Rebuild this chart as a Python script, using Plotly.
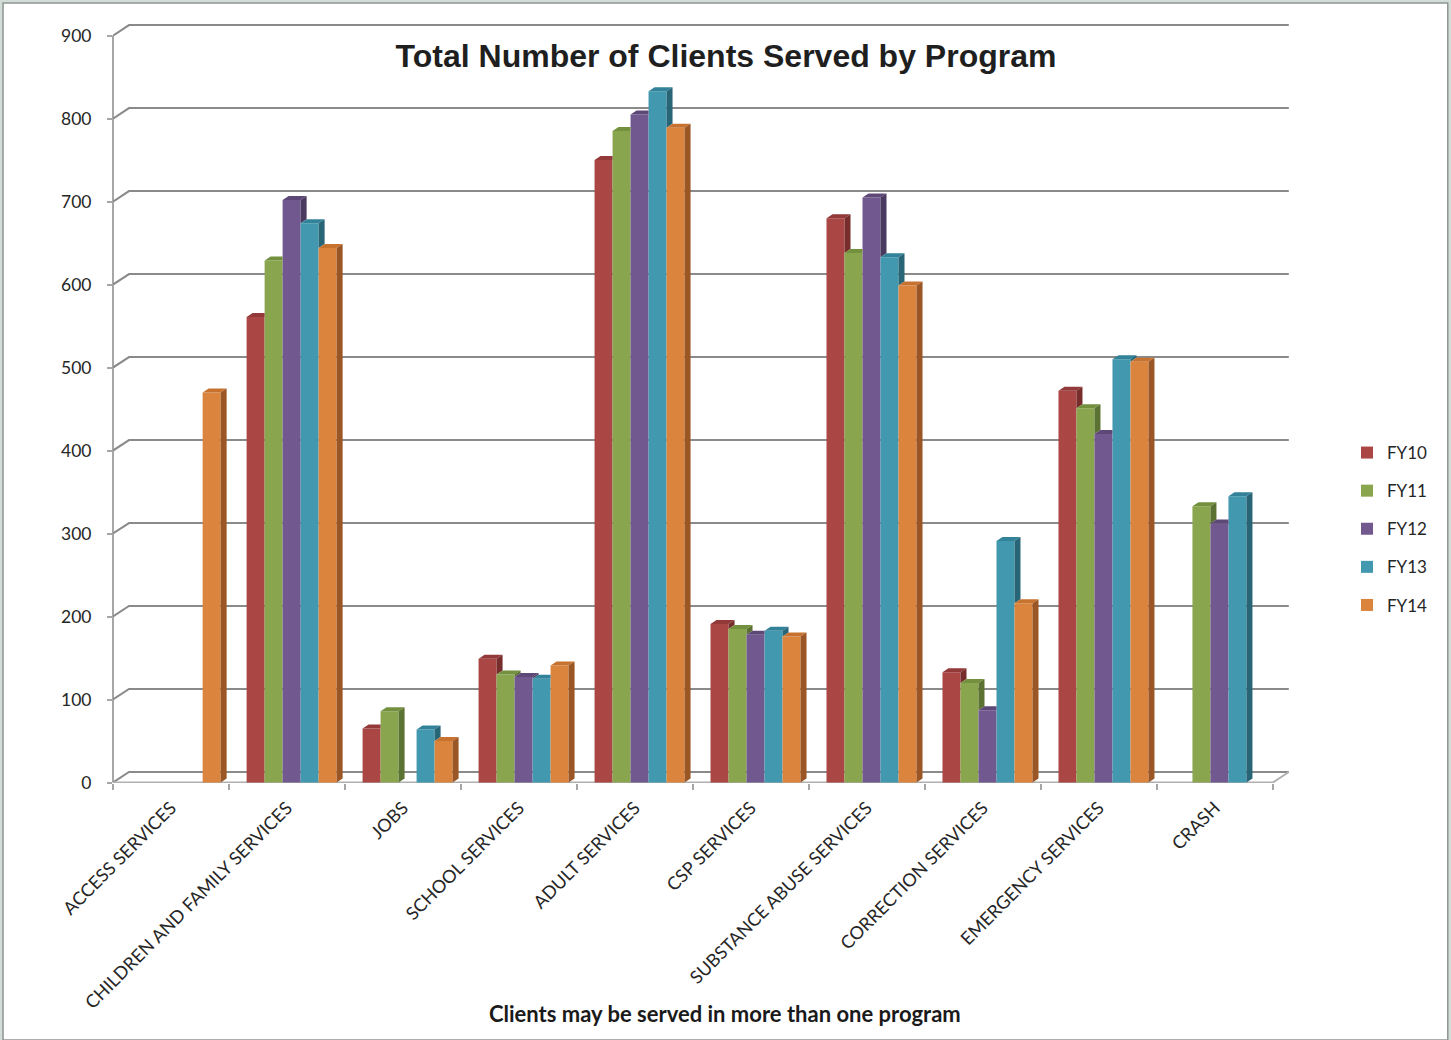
import plotly.graph_objects as go

# Programs and clients served per fiscal year (None = program not offered)
programs = [
    "ACCESS SERVICES", "CHILDREN AND FAMILY SERVICES", "JOBS", "SCHOOL SERVICES",
    "ADULT SERVICES", "CSP SERVICES", "SUBSTANCE ABUSE SERVICES",
    "CORRECTION SERVICES", "EMERGENCY SERVICES", "CRASH",
]
years = ["FY10", "FY11", "FY12", "FY13", "FY14"]
fy10 = [None, 561, 65, 149, 750, 191, 680, 133, 472, None]
fy11 = [None, 629, 86, 130, 785, 185, 638, 120, 451, 333]
fy12 = [None, 702, None, 127, 805, 178, 705, 87, 420, 312]
fy13 = [None, 674, 64, 125, 833, 183, 633, 291, 510, 345]
fy14 = [470, 644, 50, 141, 789, 176, 599, 216, 507, None]
series = [fy10, fy11, fy12, fy13, fy14]
y_ticks = [0, 100, 200, 300, 400, 500, 600, 700, 800, 900]

front_cols = ["#AA4643", "#89A54E", "#71588F", "#4198AF", "#DB843D"]
top_cols = ["#93393A", "#73903F", "#5E4878", "#32839A", "#C87230"]
side_cols = ["#772D2B", "#5B7232", "#4A3A60", "#286577", "#9A5624"]

# pixel geometry of the plot frame
W, H = 1451, 1040
PX_L, PX_UNIT = 113, 116.0          # x=0 position, px per category
Y0_PX, Y_SCALE = 782.5, 0.83        # y=0 position, px per unit
X_MAX = 10.2
Y_MIN, Y_MAX = -0.6, 920
plot_w = X_MAX * PX_UNIT
top_px = Y0_PX - Y_MAX * Y_SCALE
bot_px = Y0_PX - Y_MIN * Y_SCALE
plot_h = bot_px - top_px

# 3-D offsets: back wall and bar depth (data units)
wall_dx, wall_dy = 16 / PX_UNIT, 10.5 / Y_SCALE
bar_dx, bar_dy = 6 / PX_UNIT, 4 / Y_SCALE
group_w = 0.776
bar_w = group_w / 5
group_shift = 0.54

n = len(programs)
xc = [i + group_shift for i in range(n)]

fig = go.Figure()

# front faces
for k, (name, vals) in enumerate(zip(years, series)):
    fig.add_trace(go.Bar(
        x=xc, y=vals, name=name, width=bar_w, offset=-group_w / 2 + k * bar_w,
        marker=dict(color=front_cols[k], line=dict(width=0)),
        legendgroup=name, customdata=programs,
        hovertemplate="%{customdata}<br>" + name + ": %{y}<extra></extra>",
    ))

# top and side faces, hidden parts removed where the next bar covers them
for k, vals in enumerate(series):
    tx, ty, sx, sy = [], [], [], []
    for i, v in enumerate(vals):
        if v is None:
            continue
        x0 = xc[i] - group_w / 2 + k * bar_w
        x1 = x0 + bar_w
        nxt = series[k + 1][i] if k + 1 < len(series) else None
        vn = nxt if nxt is not None else 0
        if nxt is not None and nxt > v:
            tx += [x0, x1, x1, x0 + bar_dx, x0, None]
            ty += [v, v, v + bar_dy, v + bar_dy, v, None]
        else:
            tx += [x0, x1, x1 + bar_dx, x0 + bar_dx, x0, None]
            ty += [v, v, v + bar_dy, v + bar_dy, v, None]
        if v > vn:
            sx += [x1, x1, x1 + bar_dx, x1 + bar_dx, x1, None]
            sy += [vn, v, v + bar_dy, vn + bar_dy, vn, None]
    for xs, ys, col in ((tx, ty, top_cols[k]), (sx, sy, side_cols[k])):
        fig.add_trace(go.Scatter(
            x=xs, y=ys, mode="lines", fill="toself", fillcolor=col,
            line=dict(width=0, color=col), showlegend=False, hoverinfo="skip",
            legendgroup=years[k],
        ))

shapes = []
def px_to_paper(px, py):
    return (px - PX_L) / plot_w, (bot_px - py) / plot_h

# outer frame
fx0, fy0 = px_to_paper(3, 1040)
fx1, fy1 = px_to_paper(1448, 3)
shapes.append(dict(type="rect", xref="paper", yref="paper", x0=fx0, y0=fy0, x1=fx1, y1=fy1,
                   fillcolor="white", line=dict(color="#8e9592", width=1.5), layer="below"))

# back wall gridlines with their slant onto the side wall
for v in y_ticks:
    shapes.append(dict(
        type="path", xref="x", yref="y", layer="below",
        path=f"M 0,{v} L {wall_dx},{v + wall_dy} L {n + wall_dx},{v + wall_dy}",
        line=dict(color="#8a8a8a", width=2),
    ))
# floor front edge and right slant
shapes.append(dict(type="path", xref="x", yref="y", layer="below",
                   path=f"M 0,0 L {n},0 L {n + wall_dx},{wall_dy}",
                   line=dict(color="#b0b0b0", width=2)))
# vertical value axis line
shapes.append(dict(type="line", xref="paper", yref="y", x0=0, x1=0, y0=0, y1=y_ticks[-1],
                   line=dict(color="#a6a6a6", width=2), layer="below"))

ann_x, ann_y = px_to_paper(725, 1014)

fig.update_layout(
    width=W, height=H,
    margin=dict(l=PX_L, r=W - PX_L - plot_w, t=top_px, b=H - bot_px, pad=0),
    paper_bgcolor="#d3ddd7", plot_bgcolor="rgba(0,0,0,0)",
    barmode="overlay",
    shapes=shapes,
    title=dict(text="<b>Total Number of Clients Served by Program</b>",
               x=726 / W, xref="container", xanchor="center",
               y=1 - 56 / H, yref="container", yanchor="middle",
               font=dict(family="Liberation Sans, Arial, sans-serif", size=32, color="#1f1f1f")),
    font=dict(family="Lato, Noto Sans, sans-serif", color="#262626"),
    xaxis=dict(
        range=[0, X_MAX], showgrid=False, zeroline=False, showline=False,
        tickmode="array", tickvals=[i + 0.5 for i in range(n)], ticktext=programs,
        tickangle=-45, ticks="", tickfont=dict(size=18, color="#262626"),
        ticklabelstandoff=10,
        minor=dict(tickmode="array", tickvals=list(range(n + 1)), ticks="outside",
                   ticklen=6, tickcolor="#a6a6a6", tickwidth=1.5, showgrid=False),
        fixedrange=True,
    ),
    yaxis=dict(
        range=[Y_MIN, Y_MAX], showgrid=False, zeroline=False, showline=False,
        tickmode="array", tickvals=y_ticks, ticks="outside", ticklen=5,
        tickcolor="#a6a6a6", tickwidth=1.5, ticklabelstandoff=12,
        tickfont=dict(size=17.5, color="#262626"), fixedrange=True,
    ),
    legend=dict(xref="container", yref="container", x=1347 / W, y=1 - 435 / H,
                xanchor="left", yanchor="top", tracegroupgap=13,
                font=dict(size=17, color="#262626"), bgcolor="rgba(0,0,0,0)"),
    annotations=[dict(text="<b>Clients may be served in more than one program</b>",
                      xref="paper", yref="paper", x=ann_x, y=ann_y, showarrow=False,
                      xanchor="center", yanchor="middle",
                      font=dict(family="Lato, Noto Sans, sans-serif", size=22, color="#1a1a1a"))],
)

fig.write_html("out.html")
